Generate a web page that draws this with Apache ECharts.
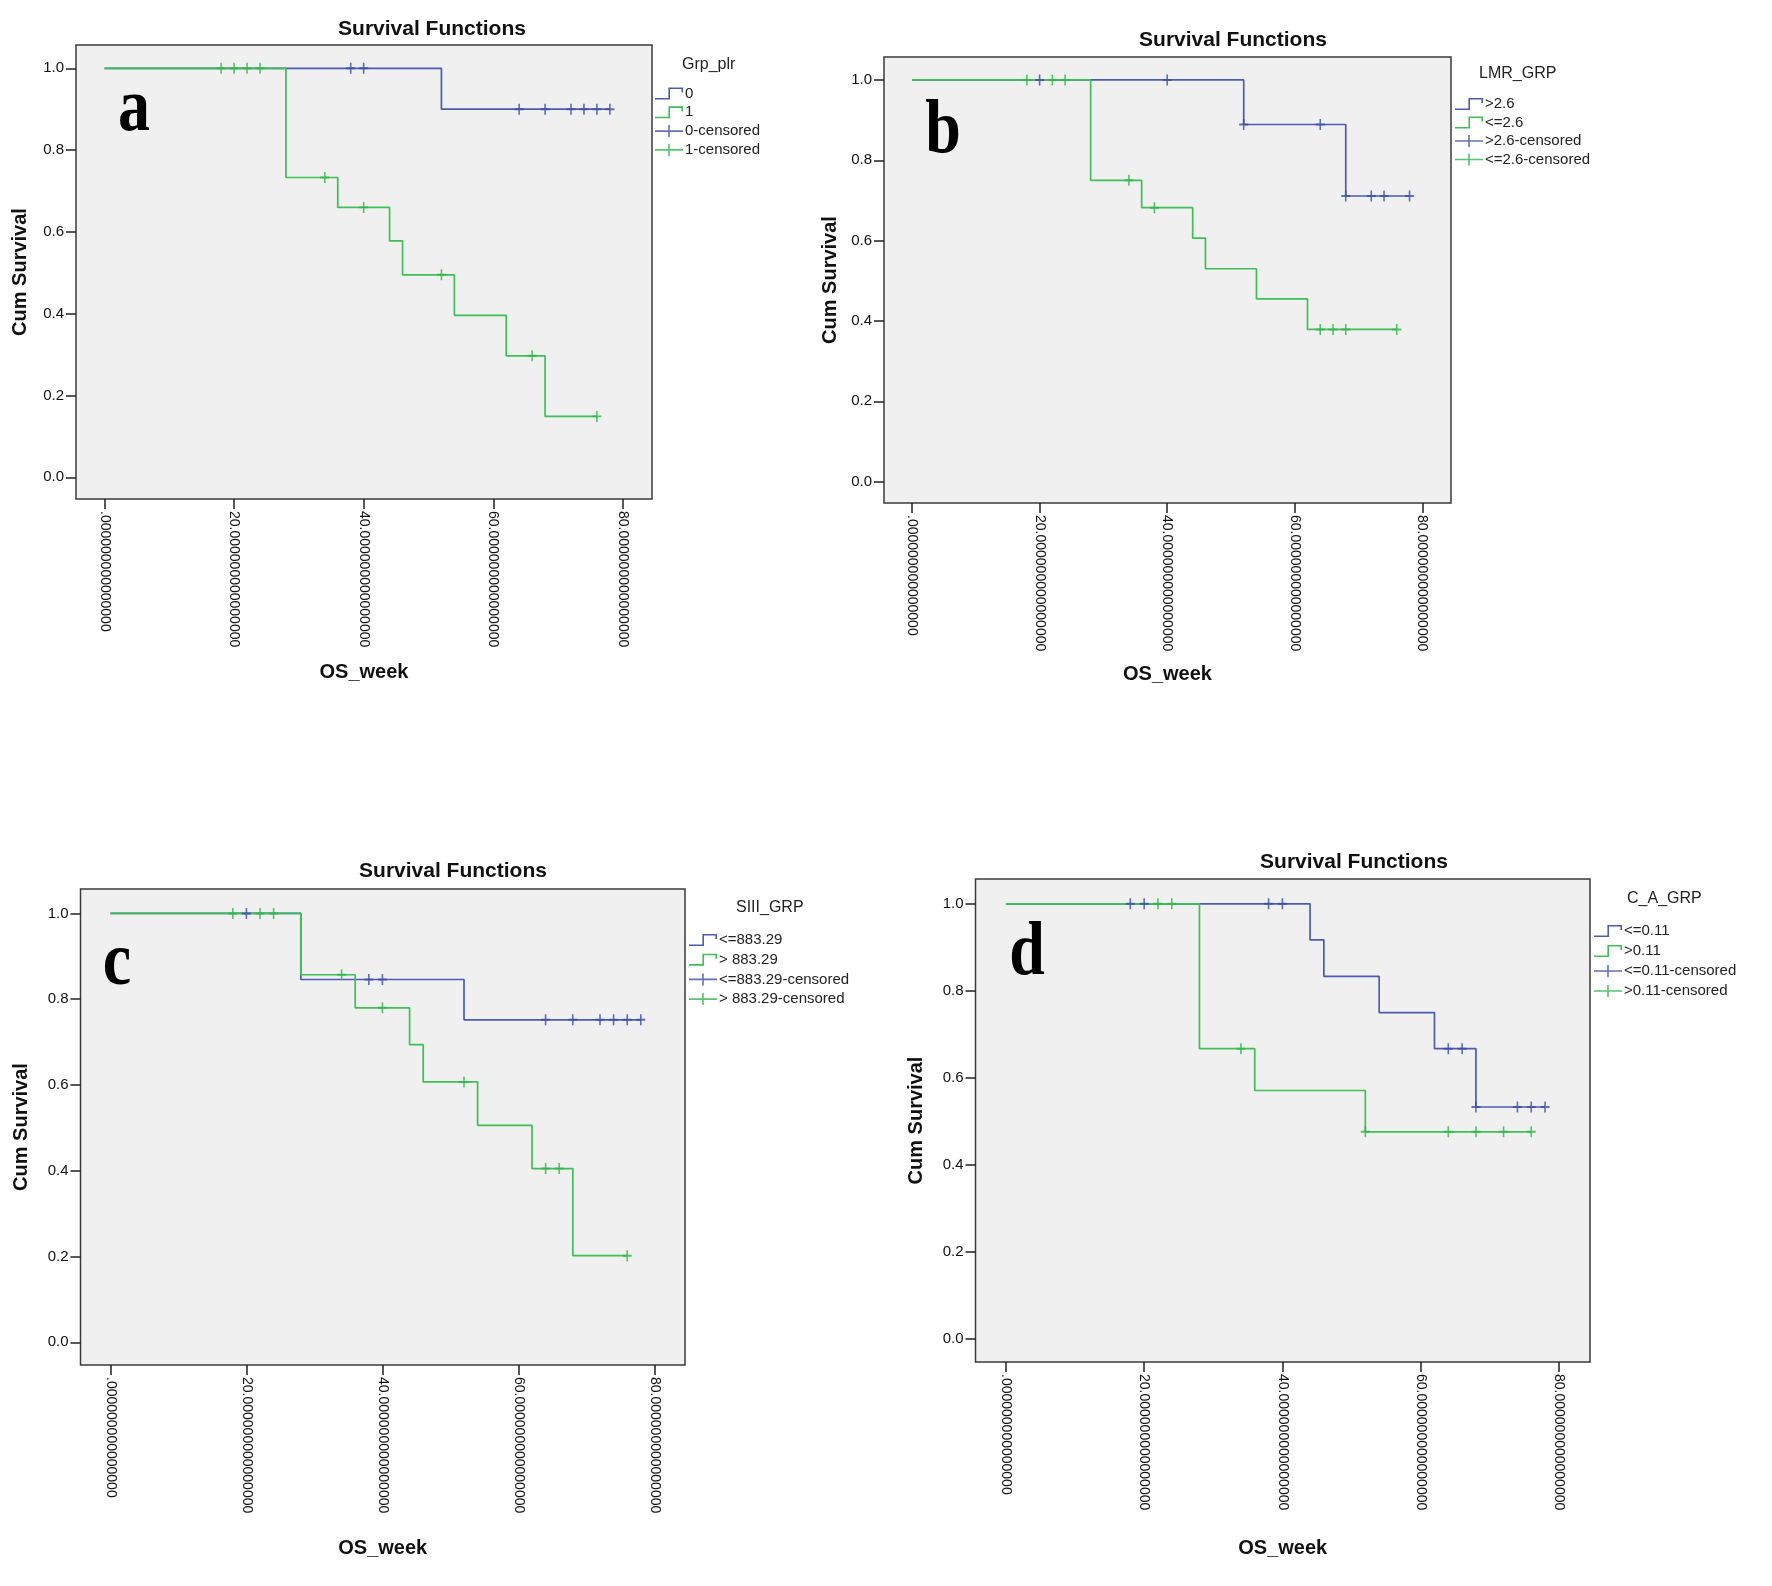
<!DOCTYPE html>
<html>
<head>
<meta charset="utf-8">
<script src="https://cdn.jsdelivr.net/npm/echarts@6/dist/echarts.min.js"></script>
<style>
html,body{margin:0;padding:0;background:#fff;}
#chart{width:1772px;height:1586px;}
</style>
</head>
<body>
<div id="chart"></div>
<script>
// ---------- tick labels ----------
const xTickValues = [0, 20, 40, 60, 80];
const xTickLabels = ['.000000000000000', '20.000000000000000', '40.000000000000000', '60.000000000000000', '80.000000000000000'];
const yTickValues = [0, 0.2, 0.4, 0.6, 0.8, 1.0];
const yTickLabels = ['0.0', '0.2', '0.4', '0.6', '0.8', '1.0'];

// ---------- panel a : Grp_plr ----------
const aLegendTitle = 'Grp_plr';
const aNames = ['0', '1'];
const aT0 = [0, 52, 78];
const aS0 = [1, 0.9, 0.9];
const aCT0 = [38, 40, 64, 68, 72, 74, 76, 78];
const aCS0 = [1, 1, 0.9, 0.9, 0.9, 0.9, 0.9, 0.9];
const aT1 = [0, 28, 36, 44, 46, 54, 62, 68, 76];
const aS1 = [1, 0.733, 0.660, 0.578, 0.495, 0.396, 0.297, 0.149, 0.149];
const aCT1 = [18, 20, 22, 24, 34, 40, 52, 66, 76];
const aCS1 = [1, 1, 1, 1, 0.733, 0.660, 0.495, 0.297, 0.149];

// ---------- panel b : LMR_GRP ----------
const bLegendTitle = 'LMR_GRP';
const bNames = ['>2.6', '<=2.6'];
const bT0 = [0, 52, 68, 78];
const bS0 = [1, 0.889, 0.711, 0.711];
const bCT0 = [20, 40, 52, 64, 68, 72, 74, 78];
const bCS0 = [1, 1, 0.889, 0.889, 0.711, 0.711, 0.711, 0.711];
const bT1 = [0, 28, 36, 44, 46, 54, 62, 76];
const bS1 = [1, 0.750, 0.682, 0.606, 0.530, 0.455, 0.379, 0.379];
const bCT1 = [18, 22, 24, 34, 38, 64, 66, 68, 76];
const bCS1 = [1, 1, 1, 0.750, 0.682, 0.379, 0.379, 0.379, 0.379];

// ---------- panel c : SIII_GRP ----------
const cLegendTitle = 'SIII_GRP';
const cNames = ['<=883.29', '> 883.29'];
const cT0 = [0, 28, 52, 78];
const cS0 = [1, 0.846, 0.752, 0.752];
const cCT0 = [20, 38, 40, 64, 68, 72, 74, 76, 78];
const cCS0 = [1, 0.846, 0.846, 0.752, 0.752, 0.752, 0.752, 0.752, 0.752];
const cT1 = [0, 28, 36, 44, 46, 54, 62, 68, 76];
const cS1 = [1, 0.857, 0.780, 0.694, 0.607, 0.506, 0.405, 0.202, 0.202];
const cCT1 = [18, 22, 24, 34, 40, 52, 64, 66, 76];
const cCS1 = [1, 1, 1, 0.857, 0.780, 0.607, 0.405, 0.405, 0.202];

// ---------- panel d : C_A_GRP ----------
const dLegendTitle = 'C_A_GRP';
const dNames = ['<=0.11', '>0.11'];
const dT0 = [0, 44, 46, 54, 62, 68, 78];
const dS0 = [1, 0.917, 0.833, 0.750, 0.667, 0.533, 0.533];
const dCT0 = [18, 20, 38, 40, 64, 66, 68, 74, 76, 78];
const dCS0 = [1, 1, 1, 1, 0.667, 0.667, 0.533, 0.533, 0.533, 0.533];
const dT1 = [0, 28, 36, 52, 76];
const dS1 = [1, 0.667, 0.571, 0.476, 0.476];
const dCT1 = [22, 24, 34, 52, 64, 68, 72, 76];
const dCS1 = [1, 1, 0.667, 0.476, 0.476, 0.476, 0.476, 0.476];

// ---------- layout / style ----------
const BLUE = '#4a5db2';
const BLUE_MARK = '#3a4ea8';
const GREEN = '#3fbf55';
const GREEN_MARK = '#2fb548';
const SANS = '"Liberation Sans", Arial, sans-serif';
const SERIF = '"Liberation Serif", "Times New Roman", serif';
const STEP_ICON = 'path://M0,10.4 L13.4,10.4 L13.4,0 L28,0 L28,5 L26.4,5 L26.4,1.6 L15,1.6 L15,12 L0,12 Z';
const CROSS_ICON = 'path://M0,5.2 L28,5.2 L28,6.8 L0,6.8 Z M13.2,0 L14.8,0 L14.8,12 L13.2,12 Z';
const CROSS_MARK = 'path://M0,4.1 L10,4.1 L10,5.9 L0,5.9 Z M4.1,0 L5.9,0 L5.9,10 L4.1,10 Z';

const panels = [
  {names: aNames, legendTitle: aLegendTitle, T0: aT0, S0: aS0, CT0: aCT0, CS0: aCS0, T1: aT1, S1: aS1, CT1: aCT1, CS1: aCS1,
   grid: {left: 76, top: 45, width: 576, height: 454}, title: [432, 19], lt: [682, 57], lg: [655, 86, 3.8],
   yGap: 46, xGap: 163, letter: 'a', lpos: [134, 110]},
  {names: bNames, legendTitle: bLegendTitle, T0: bT0, S0: bS0, CT0: bCT0, CS0: bCS0, T1: bT1, S1: bS1, CT1: bCT1, CS1: bCS1,
   grid: {left: 884, top: 57, width: 567, height: 446}, title: [1233, 30], lt: [1479, 66], lg: [1455, 96.5, 3.5],
   yGap: 44, xGap: 161, letter: 'b', lpos: [943, 132]},
  {names: cNames, legendTitle: cLegendTitle, T0: cT0, S0: cS0, CT0: cCT0, CS0: cCS0, T1: cT1, S1: cS1, CT1: cCT1, CS1: cCS1,
   grid: {left: 80.5, top: 889, width: 604.5, height: 476}, title: [453, 861], lt: [736, 900], lg: [689, 932.5, 4.7],
   yGap: 49, xGap: 173, letter: 'c', lpos: [117, 964]},
  {names: dNames, legendTitle: dLegendTitle, T0: dT0, S0: dS0, CT0: dCT0, CS0: dCS0, T1: dT1, S1: dS1, CT1: dCT1, CS1: dCS1,
   grid: {left: 975.5, top: 879, width: 614.5, height: 483}, title: [1354, 852], lt: [1627, 891], lg: [1594, 923.5, 5],
   yGap: 49.5, xGap: 176, letter: 'd', lpos: [1027, 954]}
];

const zip = (xs, ys) => xs.map((x, i) => [x, ys[i]]);

const grids = [], xAxes = [], yAxes = [], series = [], legends = [], titles = [], graphics = [];

panels.forEach((p, i) => {
  grids.push(Object.assign({show: true, backgroundColor: '#f0f0f0', borderColor: '#3a3a3a', borderWidth: 1.5}, p.grid));
  xAxes.push({
    type: 'value', gridIndex: i, min: -4.4, max: 84.5, position: 'bottom',
    name: 'OS_week', nameLocation: 'middle', nameGap: p.xGap,
    nameTextStyle: {fontFamily: SANS, fontSize: 20, fontWeight: 'bold', color: '#111'},
    splitLine: {show: false}, axisLine: {show: false, onZero: false},
    axisTick: {show: true, inside: false, length: 10, customValues: xTickValues, lineStyle: {color: '#222', width: 1.5}},
    axisLabel: {show: true, customValues: xTickValues, rotate: -90, margin: 12, fontFamily: SANS, fontSize: 14, color: '#111',
      formatter: v => xTickLabels[xTickValues.indexOf(Math.round(v))] || ''}
  });
  yAxes.push({
    type: 'value', gridIndex: i, min: -0.053, max: 1.057, position: 'left',
    name: 'Cum Survival', nameLocation: 'middle', nameGap: p.yGap,
    nameTextStyle: {fontFamily: SANS, fontSize: 20, fontWeight: 'bold', color: '#111'},
    splitLine: {show: false}, axisLine: {show: false, onZero: false},
    axisTick: {show: true, inside: false, length: 10, customValues: yTickValues, lineStyle: {color: '#222', width: 1.5}},
    axisLabel: {show: true, customValues: yTickValues, margin: 12, fontFamily: SANS, fontSize: 15, color: '#111',
      formatter: v => yTickLabels[yTickValues.findIndex(t => Math.abs(t - v) < 1e-6)] || ''}
  });
  const lineCommon = {type: 'line', step: 'end', xAxisIndex: i, yAxisIndex: i, symbol: 'none', showSymbol: false, silent: true, animation: false};
  const scatCommon = {type: 'scatter', xAxisIndex: i, yAxisIndex: i, symbol: CROSS_MARK, symbolSize: [9, 11], silent: true, animation: false};
  series.push(Object.assign({name: p.names[0], data: zip(p.T0, p.S0), color: BLUE, lineStyle: {color: BLUE, width: 1.7}, z: 2}, lineCommon));
  series.push(Object.assign({name: p.names[1], data: zip(p.T1, p.S1), color: GREEN, lineStyle: {color: GREEN, width: 1.7}, z: 3}, lineCommon));
  series.push(Object.assign({name: p.names[0] + '-censored', data: zip(p.CT0, p.CS0), color: BLUE_MARK, itemStyle: {color: BLUE_MARK}, z: 4}, scatCommon));
  series.push(Object.assign({name: p.names[1] + '-censored', data: zip(p.CT1, p.CS1), color: GREEN_MARK, itemStyle: {color: GREEN_MARK}, z: 5}, scatCommon));

  titles.push({text: 'Survival Functions', left: p.title[0], top: p.title[1], textAlign: 'center', padding: 0,
    textStyle: {fontFamily: SANS, fontSize: 21, fontWeight: 'bold', color: '#111'}});
  titles.push({text: p.legendTitle, left: p.lt[0], top: p.lt[1], padding: 0,
    textStyle: {fontFamily: SANS, fontSize: 16, fontWeight: 'normal', color: '#222'}});
  legends.push({
    orient: 'vertical', left: p.lg[0], top: p.lg[1], itemGap: p.lg[2], padding: 0,
    itemWidth: 28, itemHeight: 12, selectedMode: false,
    itemStyle: {borderWidth: 0},
    textStyle: {fontFamily: SANS, fontSize: 15, lineHeight: 15, color: '#222', padding: [0, 0, 0, -3]},
    data: [
      {name: p.names[0], icon: STEP_ICON},
      {name: p.names[1], icon: STEP_ICON},
      {name: p.names[0] + '-censored', icon: CROSS_ICON},
      {name: p.names[1] + '-censored', icon: CROSS_ICON}
    ]
  });
  graphics.push({type: 'text', x: p.lpos[0], y: p.lpos[1], scaleY: 1.2, z: 100,
    style: {text: p.letter, font: 'bold 64px ' + SERIF, fill: '#000', textAlign: 'center', textVerticalAlign: 'middle'}});
});

const chart = echarts.init(document.getElementById('chart'), null, {renderer: 'canvas'});
chart.setOption({
  backgroundColor: '#ffffff',
  animation: false,
  title: titles,
  legend: legends,
  grid: grids,
  xAxis: xAxes,
  yAxis: yAxes,
  series: series,
  graphic: graphics
});
</script>
</body>
</html>
